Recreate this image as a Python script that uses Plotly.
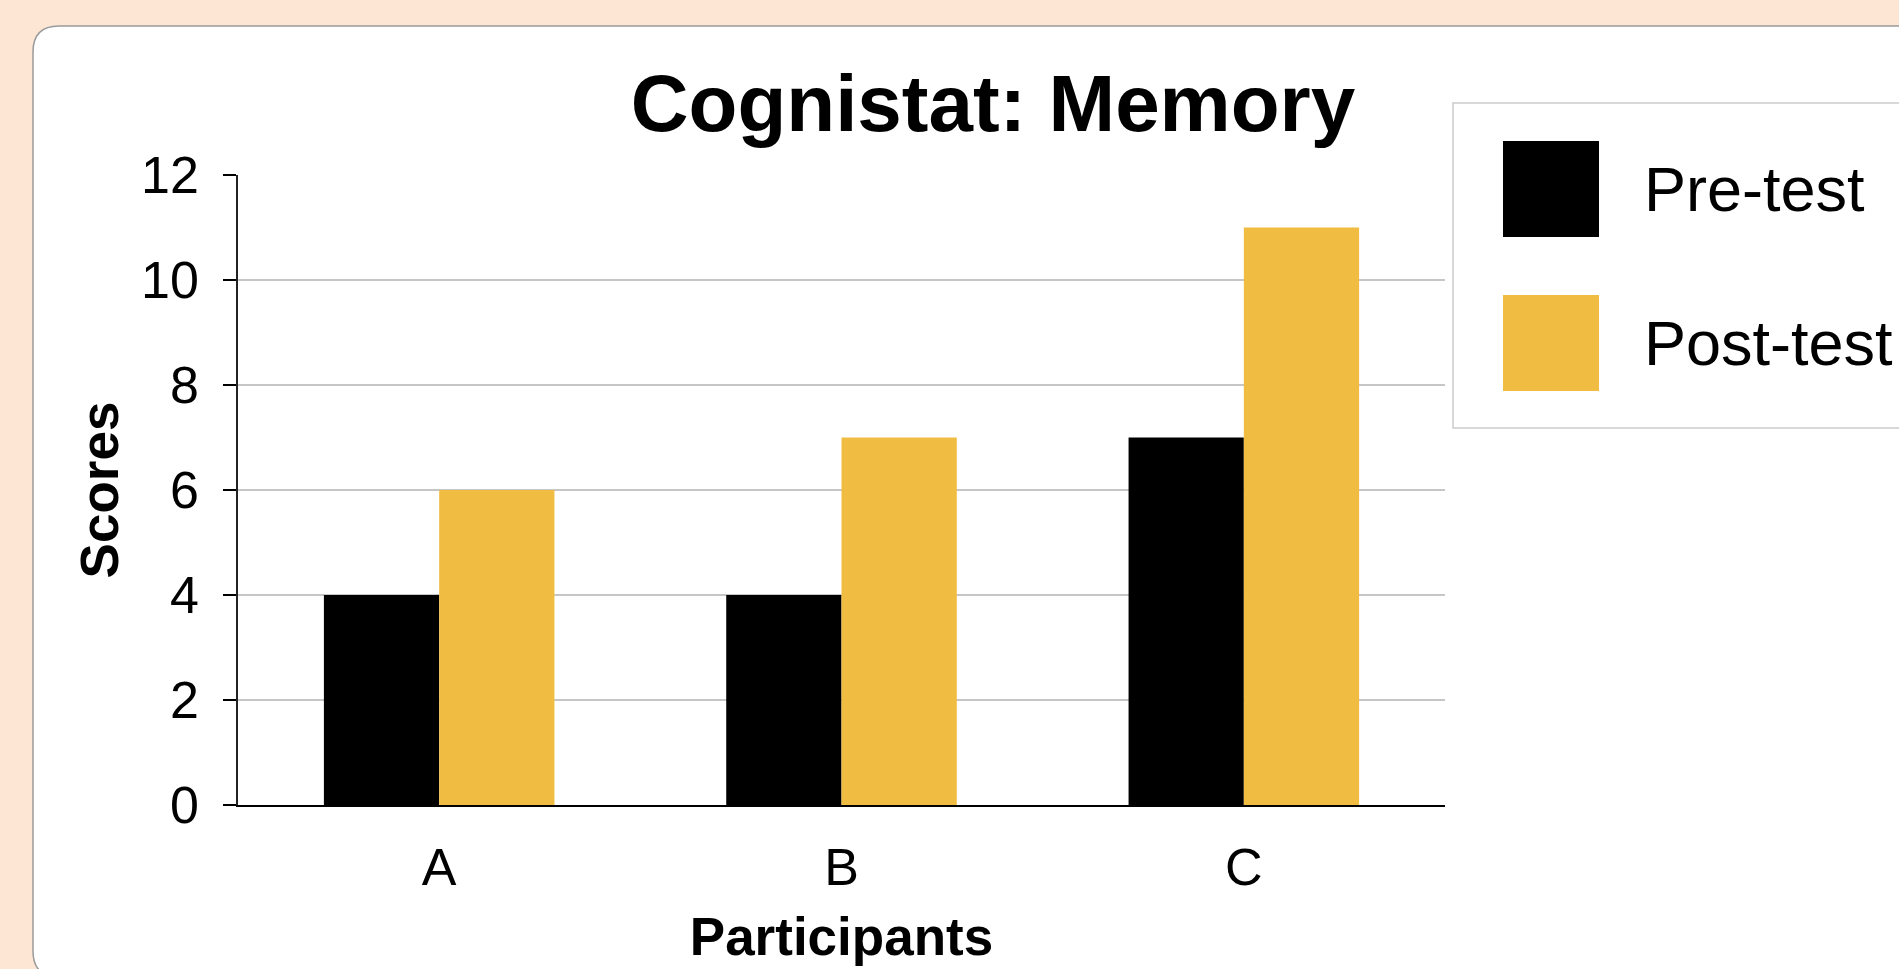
import plotly.graph_objects as go

# ---- data ----
participants = ["A", "B", "C"]
pre_test = [4, 4, 7]
post_test = [6, 7, 11]
series_names = ["Pre-test", "Post-test"]
y_ticks = [0, 2, 4, 6, 8, 10, 12]

# ---- styles ----
PRE_COLOR = "#000000"
POST_COLOR = "#F1BC42"
PAGE_BG = "#FEE6D5"
FONT = "Liberation Sans, Arial, Helvetica, sans-serif"

W, H = 1899, 969
L, R, T, B = 238, 454, 175, 164
PW, PH = W - L - R, H - T - B


def px(x):
    return (x - L) / PW


def py(y):
    return (H - B - y) / PH


fig = go.Figure()
fig.add_trace(go.Bar(x=participants, y=pre_test, name=series_names[0],
                     marker=dict(color=PRE_COLOR, line=dict(width=0))))
fig.add_trace(go.Bar(x=participants, y=post_test, name=series_names[1],
                     marker=dict(color=POST_COLOR, line=dict(width=0))))

# rounded white card
cx0, cy0, cx1, cy1, r = 33, 26, 1935, 977, 26
pts = [
    ("M", [(cx0 + r, cy0)]),
    ("L", [(cx1 - r, cy0)]),
    ("Q", [(cx1, cy0), (cx1, cy0 + r)]),
    ("L", [(cx1, cy1 - r)]),
    ("Q", [(cx1, cy1), (cx1 - r, cy1)]),
    ("L", [(cx0 + r, cy1)]),
    ("Q", [(cx0, cy1), (cx0, cy1 - r)]),
    ("L", [(cx0, cy0 + r)]),
    ("Q", [(cx0, cy0), (cx0 + r, cy0)]),
]
path = " ".join(c + " " + " ".join(f"{px(a):.5f},{py(b):.5f}" for a, b in p) for c, p in pts) + " Z"

shapes = [
    dict(type="path", xref="paper", yref="paper", path=path, layer="below",
         fillcolor="white", line=dict(color="#9A9A9A", width=1.5)),
    # legend box
    dict(type="rect", xref="paper", yref="paper", x0=px(1453), x1=px(1930),
         y0=py(428), y1=py(103), layer="above", fillcolor="white",
         line=dict(color="#CCCCCC", width=1.5)),
]
annotations = []
for i, (name, col) in enumerate(zip(series_names, [PRE_COLOR, POST_COLOR])):
    top = 141 + i * 154
    shapes.append(dict(type="rect", xref="paper", yref="paper",
                       x0=px(1503), x1=px(1599), y0=py(top + 96), y1=py(top),
                       fillcolor=col, line=dict(width=0), layer="above"))
    annotations.append(dict(text=name, xref="paper", yref="paper",
                            x=px(1642), y=py(top + 48), xanchor="left", yanchor="middle",
                            showarrow=False, font=dict(size=63, color="black", family=FONT)))

fig.update_layout(
    width=W, height=H, autosize=False,
    margin=dict(l=L, r=R, t=T, b=B, pad=0),
    paper_bgcolor=PAGE_BG, plot_bgcolor="rgba(0,0,0,0)",
    font=dict(family=FONT, color="black"),
    showlegend=False,
    barmode="group", bargap=0.427, bargroupgap=0,
    title=dict(text="<b>Cognistat: Memory</b>", x=993 / W, xanchor="center",
               y=1 - 103 / H, yanchor="middle", yref="container",
               font=dict(size=80, color="black", family=FONT)),
    xaxis=dict(categoryorder="array", categoryarray=participants,
               showline=True, linecolor="black", linewidth=2, ticks="",
               showgrid=False, tickfont=dict(size=52), ticklabelstandoff=16,
               title=dict(text="<b>Participants</b>", font=dict(size=53), standoff=22),
               automargin=False, fixedrange=True),
    yaxis=dict(range=[0, 12], tickvals=y_ticks, showgrid=True, gridcolor="#C6C6C6",
               gridwidth=1.5, zeroline=False, showline=True, linecolor="#222222",
               linewidth=1.5, ticks="outside", ticklen=13, tickwidth=1.5,
               tickcolor="black", tickfont=dict(size=52), ticklabelstandoff=14,
               title=dict(text="<b>Scores</b>", font=dict(size=53), standoff=5),
               automargin=False, fixedrange=True),
    shapes=shapes, annotations=annotations,
)

fig.write_html("out.html", config={"displayModeBar": False},
               post_script="document.body.style.margin='0';document.body.style.overflow='hidden';")
